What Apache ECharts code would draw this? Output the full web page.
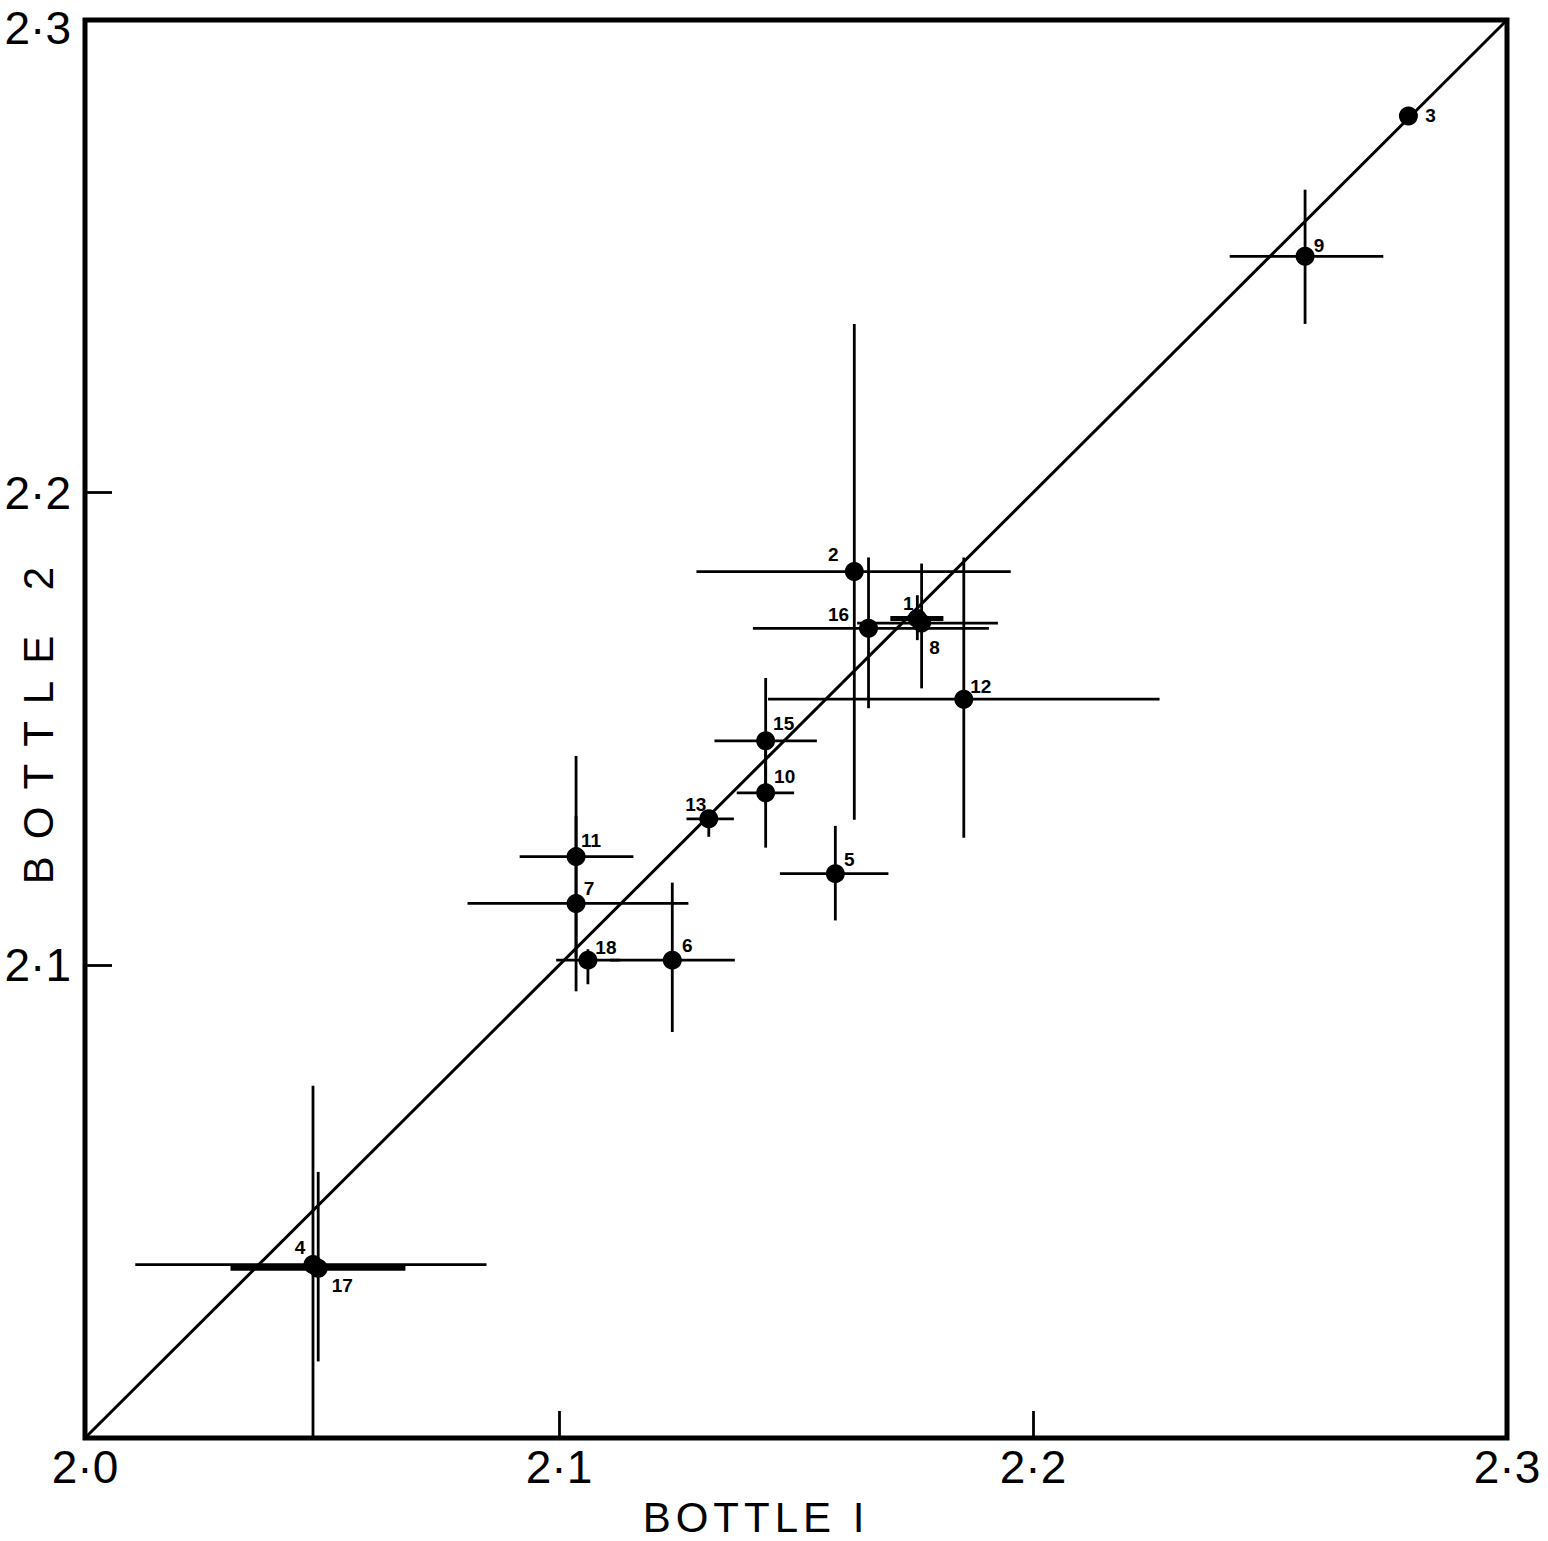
<!DOCTYPE html>
<html><head><meta charset="utf-8">
<script src="https://cdn.jsdelivr.net/npm/echarts@6/dist/echarts.min.js"></script>
<style>html,body{margin:0;padding:0;background:#fff}#c{width:1548px;height:1541px}</style>
</head><body><div id="c"></div>
<script>
// ---- data ----
const pointLabels = ['1','2','3','4','5','6','7','8','9','10','11','12','13','15','16','17','18'];
const bottle1     = [2.1756,2.1623,2.2792,2.0481,2.1583,2.1239,2.1036,2.1765,2.2574,2.1436,2.1036,2.1854,2.1316,2.1436,2.1653,2.0492,2.1061];
const bottle2     = [2.1734,2.1833,2.2797,2.0367,2.1194,2.1011,2.1131,2.1724,2.2500,2.1365,2.1230,2.1563,2.1310,2.1475,2.1713,2.0359,2.1011];
const bottle1Low  = [2.1699,2.1290,null,  2.0106,2.1466,2.1108,2.0807,2.1629,2.2415,2.1375,2.0917,2.1441,2.1269,2.1328,2.1409,2.0307,2.0994];
const bottle1High = [2.1811,2.1953,null,  2.0847,2.1695,2.1371,2.1273,2.1926,2.2739,2.1496,2.1157,2.2267,2.1369,2.1544,2.1907,2.0676,2.1129];
const bottle2Low  = [2.1688,2.1308,null,  2.0000,2.1095,2.0859,2.0945,2.1586,2.2357,2.1249,2.1017,2.1270,2.1272,2.1342,2.1544,2.0162,2.0960];
const bottle2High = [2.1783,2.2357,null,  2.0745,2.1295,2.1175,2.1316,2.1850,2.2641,2.1481,2.1443,2.1863,2.1325,2.1608,2.1863,2.0563,2.1034];
const equalityX = [2.0, 2.3];
const equalityY = [2.0, 2.3];
const tickValues = [2.0, 2.1, 2.2, 2.3];
const tickLabels = ['2·0', '2·1', '2·2', '2·3'];
const xAxisTitle = 'BOTTLE I';
const yAxisTitle = 'BOTTLE 2';

// ---- styling (not data) ----
const labelOffsets = {
  '1':[-9,-15],'2':[-21,-17],'3':[22,0],'4':[-13,-17],'5':[14,-14],'6':[15,-15],'7':[13,-15],
  '8':[13,24],'9':[14,-11],'10':[19,-16],'11':[15,-16],'12':[17,-13],'13':[-13,-14],
  '15':[18,-17],'16':[-30,-14],'17':[24,17],'18':[18,-13]
};
const thickHorizontal = ['1','17'];

function tickText(v){
  for (let i=0;i<tickValues.length;i++) if (Math.abs(tickValues[i]-v)<1e-6) return tickLabels[i];
  return '';
}
function yTickText(v){
  const t = tickText(v);
  return Math.abs(v-2.3)<1e-6 ? '{top|'+t+'}' : t;
}

const errData = pointLabels.map((n,i)=>({name:n, value:[bottle1[i],bottle2[i],bottle1Low[i],bottle1High[i],bottle2Low[i],bottle2High[i]]}))
  .filter(d=>d.value[2]!==null);
const scatterData = pointLabels.map((n,i)=>({name:n, value:[bottle1[i],bottle2[i]], label:{offset:labelOffsets[n]}}));

const chart = echarts.init(document.getElementById('c'), null, {renderer:'svg'});
const axisFont = 'Liberation Sans, Arial, sans-serif';
chart.setOption({
  animation:false,
  backgroundColor:'#fff',
  grid:{left:85, right:41, top:20, bottom:103, show:true, borderColor:'#000', borderWidth:5,
        backgroundColor:'transparent', containLabel:false, outerBoundsMode:'none'},
  xAxis:{type:'value', min:2.0, max:2.3, interval:0.1,
    name:xAxisTitle, nameLocation:'middle', nameGap:58, nameMoveOverlap:false,
    nameTextStyle:{fontFamily:axisFont, fontSize:42, color:'#000', padding:[0,80,0,0]},
    axisLine:{show:false},
    axisTick:{show:true, inside:true, length:27, lineStyle:{color:'#000', width:2.8}},
    axisLabel:{formatter:tickText, fontFamily:axisFont, fontSize:46, color:'#000', margin:6, showMinLabel:true, showMaxLabel:true},
    splitLine:{show:false}},
  yAxis:{type:'value', min:2.0, max:2.3, interval:0.1,
    name:yAxisTitle, nameLocation:'middle', nameGap:26, nameRotate:90, nameMoveOverlap:false,
    nameTextStyle:{fontFamily:axisFont, fontSize:42, color:'#000', padding:[0,0,0,24]},
    axisLine:{show:false},
    axisTick:{show:true, inside:true, length:27, lineStyle:{color:'#000', width:2.8}},
    axisLabel:{formatter:yTickText, fontFamily:axisFont, fontSize:46, color:'#000', margin:14, showMinLabel:false, showMaxLabel:true,
      rich:{top:{fontFamily:axisFont, fontSize:46, color:'#000', padding:[16,0,0,0]}}},
    splitLine:{show:false}},
  series:[
    {type:'line', data:equalityX.map((x,i)=>[x,equalityY[i]]), symbol:'none',
     lineStyle:{color:'#000', width:3}, silent:true, z:2},
    {type:'custom', clip:true, z:3, silent:true,
     renderItem:function(params, api){
       const x=api.value(0), y=api.value(1);
       const a=api.coord([api.value(2),y]), b=api.coord([api.value(3),y]);
       const c=api.coord([x,api.value(4)]), d=api.coord([x,api.value(5)]);
       const thick = thickHorizontal.indexOf(errData[params.dataIndex].name)>=0;
       return {type:'group', children:[
         {type:'line', shape:{x1:a[0],y1:a[1],x2:b[0],y2:b[1]}, style:{stroke:'#000', lineWidth:thick?5:2.8}},
         {type:'line', shape:{x1:c[0],y1:c[1],x2:d[0],y2:d[1]}, style:{stroke:'#000', lineWidth:2.8}}
       ]};
     },
     data:errData},
    {type:'scatter', z:4, symbol:'circle', symbolSize:19, itemStyle:{color:'#000', opacity:1}, silent:true,
     label:{show:true, position:'inside', formatter:'{b}', color:'#000', textBorderWidth:0,
            fontFamily:axisFont, fontWeight:'bold', fontSize:19},
     data:scatterData}
  ]
});
function spacing(){
  document.querySelectorAll('#c svg text').forEach(t=>{
    if (t.textContent===yAxisTitle) t.style.letterSpacing='17px';
    else if (t.textContent===xAxisTitle) t.style.letterSpacing='5px';
  });
}
chart.on('finished', spacing);
setTimeout(spacing, 50);
</script></body></html>
